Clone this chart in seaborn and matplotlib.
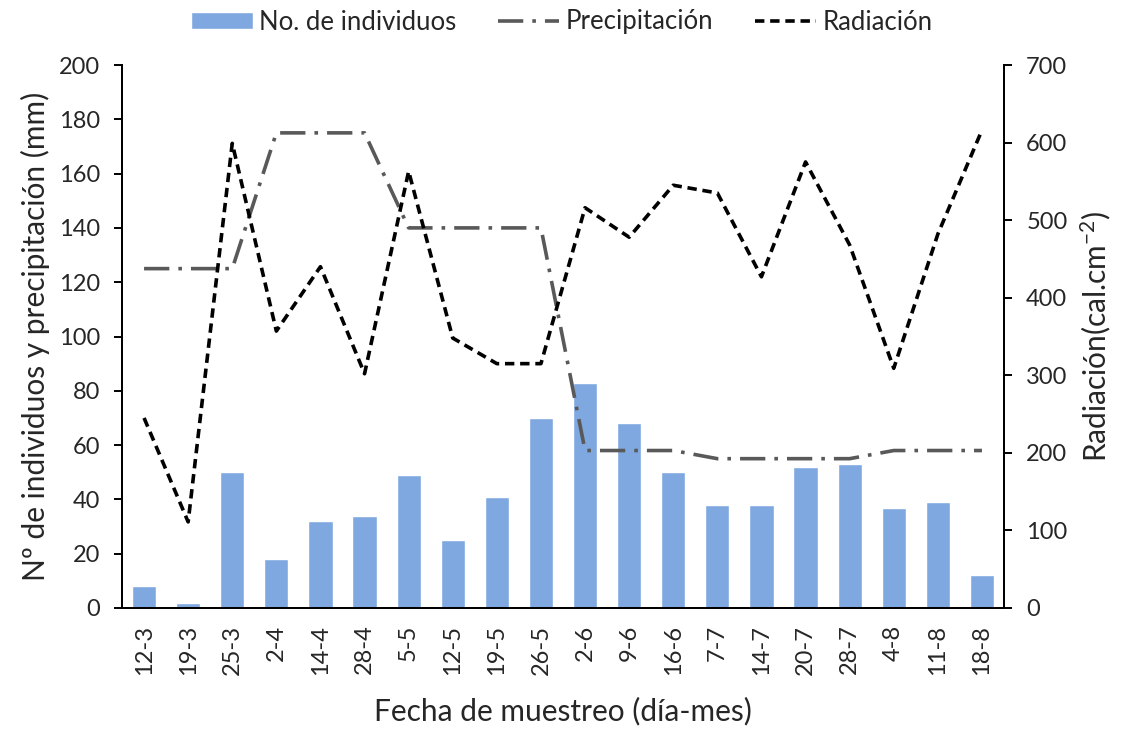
import matplotlib
matplotlib.use("Agg")
import matplotlib.pyplot as plt
import seaborn as sns
import pandas as pd

# datos
fechas = ["12-3", "19-3", "25-3", "2-4", "14-4", "28-4", "5-5", "12-5", "19-5", "26-5",
          "2-6", "9-6", "16-6", "7-7", "14-7", "20-7", "28-7", "4-8", "11-8", "18-8"]
individuos = [8, 2, 50, 18, 32, 34, 49, 25, 41, 70, 83, 68, 50, 38, 38, 52, 53, 37, 39, 12]
precipitacion = [125, 125, 125, 175, 175, 175, 140, 140, 140, 140,
                 58, 58, 58, 55, 55, 55, 55, 58, 58, 58]
radiacion = [245, 111, 599, 357, 440, 302, 563, 348, 315, 315,
             516, 478, 545, 535, 427, 575, 468, 309, 482, 616]

df = pd.DataFrame({"fecha": fechas, "ind": individuos,
                   "prec": precipitacion, "rad": radiacion})

sns.set_style("white")
plt.rcParams["font.family"] = ["Lato", "DejaVu Sans"]
plt.rcParams["mathtext.fontset"] = "custom"
plt.rcParams["mathtext.rm"] = "Lato"
plt.rcParams["mathtext.it"] = "Lato"

fig = plt.figure(figsize=(11.24, 7.34), dpi=100)
ax1 = fig.add_axes([122 / 1124, 1 - 608 / 734, (1004 - 122) / 1124, (608 - 65) / 734])

sns.barplot(data=df, x="fecha", y="ind", color="#7FA8E0", saturation=1,
            width=0.55, ax=ax1, label="No. de individuos")
sns.pointplot(data=df, x="fecha", y="prec", color="#595959", markers="",
              errorbar=None, ax=ax1, label="Precipitación",
              linestyle=(0, (7, 2.5, 1, 2.5)), linewidth=2.6)

ax2 = ax1.twinx()
sns.pointplot(data=df, x="fecha", y="rad", color="black", markers="",
              errorbar=None, ax=ax2, label="Radiación",
              linestyle=(0, (2.6, 1.6)), linewidth=2.6)

ax1.set_ylim(0, 200)
ax1.set_yticks(range(0, 201, 20))
ax2.set_ylim(0, 700)
ax2.set_yticks(range(0, 701, 100))
ax1.set_xlim(-0.5, len(fechas) - 0.5)

for ax in (ax1, ax2):
    ax.spines["top"].set_visible(False)
    for s in ("left", "right", "bottom"):
        ax.spines[s].set_linewidth(1.4)
        ax.spines[s].set_color("black")
    ax.tick_params(axis="y", length=6, width=1.4, color="black", labelsize=17, direction="out")
    ax.tick_params(axis="x", length=0, labelsize=17)

ax1.tick_params(axis="y", left=True, pad=10)
ax2.tick_params(axis="y", right=True, pad=10)
ax1.set_xticks(range(len(fechas)))
ax1.set_xticklabels(fechas, rotation=90)
ax1.tick_params(axis="x", pad=12)

ax1.set_xlabel("Fecha de muestreo (día-mes)", fontsize=21.5, labelpad=16)
ax1.set_ylabel("Nº de individuos y precipitación (mm)", fontsize=21.5, labelpad=6)
ax2.set_ylabel("Radiación(cal.cm$^{-2}$)", fontsize=21.5, labelpad=8)

handles = [ax1.containers[0], ax1.lines[-1], ax2.lines[-1]]
labels = ["No. de individuos", "Precipitación", "Radiación"]
leg = ax2.legend(handles, labels, loc="center", bbox_to_anchor=(0.5, (734 - 22) / 734),
                 bbox_transform=fig.transFigure,
                 ncol=3, frameon=False, fontsize=18.5, handlelength=2.4,
                 handleheight=0.6, columnspacing=1.6, handletextpad=0.25)
if ax1.get_legend() is not None:
    ax1.get_legend().remove()

fig.savefig("out.png", dpi=100)
